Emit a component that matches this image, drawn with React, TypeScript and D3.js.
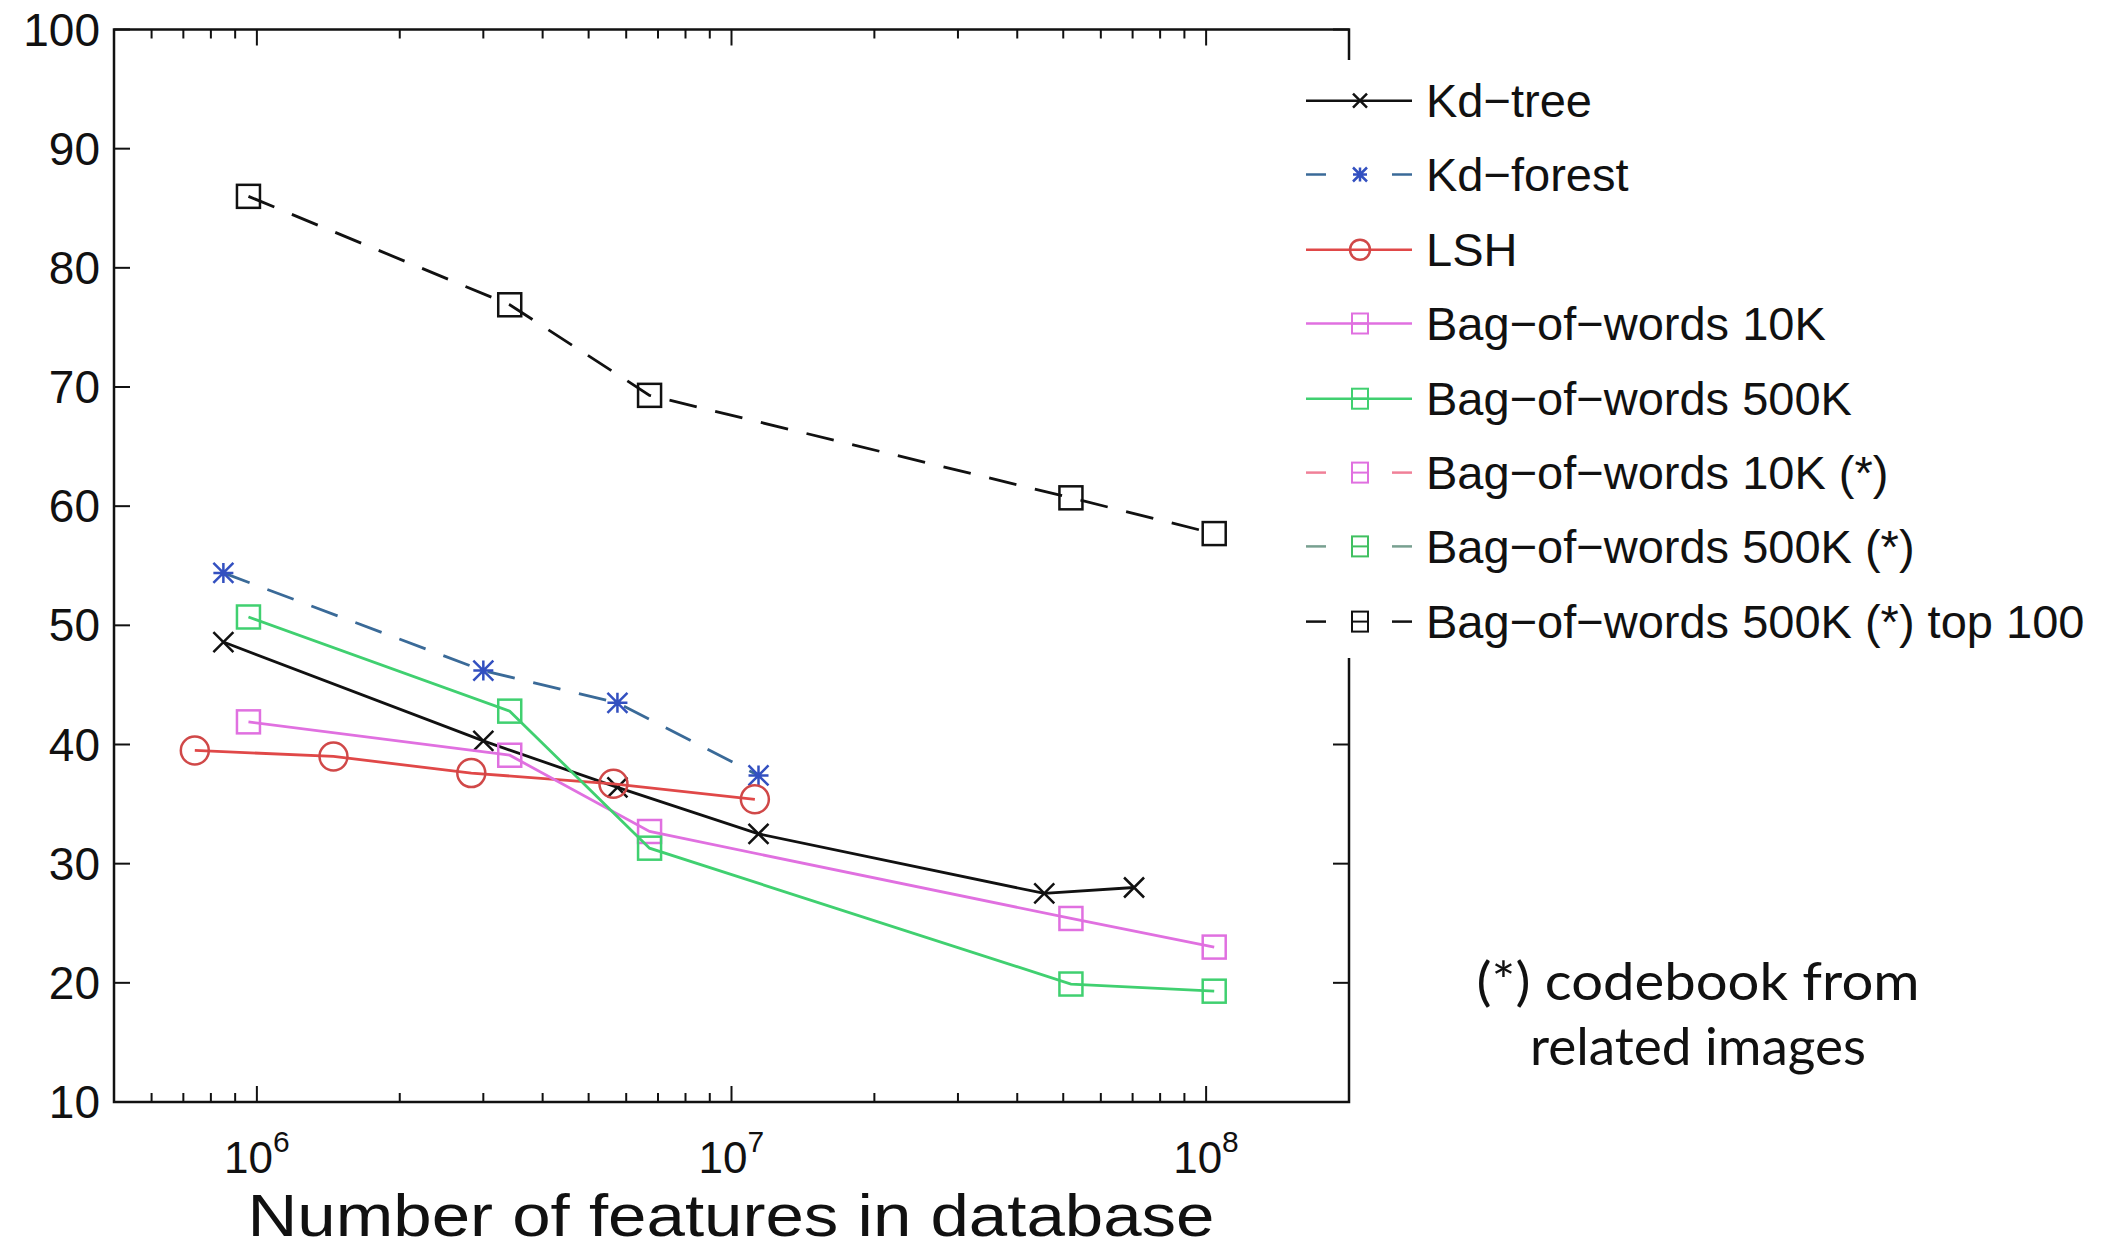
import { scaleLog, scaleLinear, line } from "d3";

const width = 2105;
const height = 1252;

// x = number of features, y = recall (%)
const kdTreeX = [8.5e5, 3.0e6, 5.75e6, 1.14e7, 4.56e7, 7.05e7];
const kdTreeY = [48.6, 40.3, 36.4, 32.5, 27.5, 28.0];
const kdForestX = [8.5e5, 3.0e6, 5.75e6, 1.14e7];
const kdForestY = [54.4, 46.2, 43.5, 37.4];
const lshX = [7.4e5, 1.45e6, 2.83e6, 5.64e6, 1.12e7];
const lshY = [39.5, 39.0, 37.6, 36.7, 35.4];
const bowX = [9.6e5, 3.41e6, 6.72e6, 5.19e7, 1.04e8];
const bow10kY = [41.9, 39.1, 32.7, 25.4, 23.0];
const bow500kY = [50.7, 42.8, 31.3, 19.9, 19.3];
const bowTop100Y = [86.0, 76.9, 69.3, 60.7, 57.7];

const yTicks = [10, 20, 30, 40, 50, 60, 70, 80, 90, 100];
const xMajor = [1e6, 1e7, 1e8];
const xMajorExp = ["6", "7", "8"];

type Series = {
  name: string;
  xs: number[];
  ys: number[];
  color: string;
  markerColor: string;
  marker: "x" | "star" | "circle" | "square";
  dashed: boolean;
};

const series: Series[] = [
  { name: "Kd\u2212tree", xs: kdTreeX, ys: kdTreeY, color: "#111", markerColor: "#111", marker: "x", dashed: false },
  { name: "Kd\u2212forest", xs: kdForestX, ys: kdForestY, color: "#3a6a98", markerColor: "#3350c0", marker: "star", dashed: true },
  { name: "LSH", xs: lshX, ys: lshY, color: "#e04848", markerColor: "#d04848", marker: "circle", dashed: false },
  { name: "Bag\u2212of\u2212words 10K", xs: bowX, ys: bow10kY, color: "#e070e0", markerColor: "#e070e0", marker: "square", dashed: false },
  { name: "Bag\u2212of\u2212words 500K", xs: bowX, ys: bow500kY, color: "#40d070", markerColor: "#40d070", marker: "square", dashed: false },
  { name: "Bag\u2212of\u2212words 10K (*)", xs: [], ys: [], color: "#f08098", markerColor: "#e070e0", marker: "square", dashed: true },
  { name: "Bag\u2212of\u2212words 500K (*)", xs: [], ys: [], color: "#78a090", markerColor: "#40c060", marker: "square", dashed: true },
  { name: "Bag\u2212of\u2212words 500K (*) top 100", xs: bowX, ys: bowTop100Y, color: "#111", markerColor: "#111", marker: "square", dashed: true },
];

const x = scaleLog().domain([5e5, 2e8]).range([114, 1349]);
const y = scaleLinear().domain([10, 100]).range([1102, 29.5]);

const minorTicks: number[] = [];
for (let e = 5; e <= 8; e++) {
  for (let m = 2; m <= 9; m++) {
    const v = m * Math.pow(10, e);
    if (v > 5e5 && v < 2e8) minorTicks.push(v);
  }
}

function Marker({ kind, cx, cy, color, s }: { kind: string; cx: number; cy: number; color: string; s: number }) {
  const h = s / 2;
  if (kind === "x")
    return (
      <path d={`M${cx - h},${cy - h}L${cx + h},${cy + h}M${cx - h},${cy + h}L${cx + h},${cy - h}`} stroke={color} strokeWidth={2.5} fill="none" />
    );
  if (kind === "star")
    return (
      <path
        d={`M${cx - h},${cy - h}L${cx + h},${cy + h}M${cx - h},${cy + h}L${cx + h},${cy - h}M${cx},${cy - h}L${cx},${cy + h}M${cx - h},${cy}L${cx + h},${cy}`}
        stroke={color}
        strokeWidth={2.5}
        fill="none"
      />
    );
  if (kind === "circle") return <circle cx={cx} cy={cy} r={h} stroke={color} strokeWidth={2.5} fill="none" />;
  return <rect x={cx - h} y={cy - h} width={s} height={s} stroke={color} strokeWidth={2.5} fill="none" />;
}

export default function App() {
  const path = line<[number, number]>()
    .x((d) => x(d[0]))
    .y((d) => y(d[1]));

  const legendY = [100.7, 174.5, 249.7, 323.5, 398.7, 472.6, 546.4, 621.6];
  const font = "'Liberation Sans', Arial, Helvetica, sans-serif";

  return (
    <svg width={width} height={height} style={{ position: "absolute", left: 0, top: 0, background: "#fff" }}>
      <rect width={width} height={height} fill="#fff" />
      <g fontFamily={font} fill="#111">
        {/* plot box */}
        <rect x={114} y={29.5} width={1235} height={1072.5} fill="none" stroke="#111" strokeWidth={2.5} />
        {yTicks.map((t) => (
          <g key={t}>
            <line x1={114} x2={130} y1={y(t)} y2={y(t)} stroke="#111" strokeWidth={2} />
            <line x1={1349} x2={1333} y1={y(t)} y2={y(t)} stroke="#111" strokeWidth={2} />
            <text x={100} y={y(t)} textAnchor="end" dominantBaseline="central" fontSize={46}>
              {t}
            </text>
          </g>
        ))}
        {minorTicks.map((t) => (
          <g key={t}>
            <line x1={x(t)} x2={x(t)} y1={1102} y2={1093} stroke="#111" strokeWidth={2} />
            <line x1={x(t)} x2={x(t)} y1={29.5} y2={38.5} stroke="#111" strokeWidth={2} />
          </g>
        ))}
        {xMajor.map((t, i) => (
          <g key={t}>
            <line x1={x(t)} x2={x(t)} y1={1102} y2={1086} stroke="#111" strokeWidth={2} />
            <line x1={x(t)} x2={x(t)} y1={29.5} y2={45.5} stroke="#111" strokeWidth={2} />
            <text x={x(t) + 16} y={1173} textAnchor="end" fontSize={44}>
              10
            </text>
            <text x={x(t) + 16} y={1152} fontSize={30}>
              {xMajorExp[i]}
            </text>
          </g>
        ))}
        <text x={731} y={1236} textAnchor="middle" fontSize={60} textLength={967} lengthAdjust="spacingAndGlyphs">
          Number of features in database
        </text>

        {/* series */}
        {series.map((s) => {
          const pts = s.xs.map((v, i) => [v, s.ys[i]] as [number, number]);
          if (!pts.length) return null;
          return (
            <g key={s.name}>
              <path
                d={path(pts) ?? ""}
                fill="none"
                stroke={s.color}
                strokeWidth={2.8}
                strokeDasharray={s.dashed ? "28 19" : undefined}
              />
              {pts.map((p, i) => (
                <Marker
                  key={i}
                  kind={s.marker}
                  cx={x(p[0])}
                  cy={y(p[1])}
                  color={s.markerColor}
                  s={s.marker === "circle" ? 28 : s.marker === "square" ? 23 : 20}
                />
              ))}
            </g>
          );
        })}

        {/* legend */}
        <rect x={1297} y={60} width={808} height={598} fill="#fff" />
        {series.map((s, i) => {
          const ly = legendY[i];
          return (
            <g key={s.name}>
              {s.dashed ? (
                <>
                  <line x1={1306} x2={1326} y1={ly} y2={ly} stroke={s.color} strokeWidth={2.5} />
                  <line x1={1392} x2={1412} y1={ly} y2={ly} stroke={s.color} strokeWidth={2.5} />
                </>
              ) : (
                <line x1={1306} x2={1412} y1={ly} y2={ly} stroke={s.color} strokeWidth={2.5} />
              )}
              {s.marker === "square" ? (
                <g>
                  <rect x={1352} y={ly - 10} width={16} height={20} fill="none" stroke={s.markerColor} strokeWidth={2} />
                  <line x1={1352} x2={1368} y1={ly} y2={ly} stroke={s.markerColor} strokeWidth={2} />
                </g>
              ) : (
                <Marker kind={s.marker} cx={1360} cy={ly} color={s.markerColor} s={s.marker === "circle" ? 20 : 14} />
              )}
              <text x={1426} y={ly} dominantBaseline="central" fontSize={47}>
                {s.name}
              </text>
            </g>
          );
        })}
      </g>

      {/* note */}
      <g fontFamily="Lato, 'Open Sans', sans-serif" fill="#111" fontSize={52} textAnchor="middle">
        <text x={1698} y={1000} textLength={443} lengthAdjust="spacingAndGlyphs">
          (*) codebook from
        </text>
        <text x={1698} y={1065} textLength={336} lengthAdjust="spacingAndGlyphs">
          related images
        </text>
      </g>
    </svg>
  );
}
